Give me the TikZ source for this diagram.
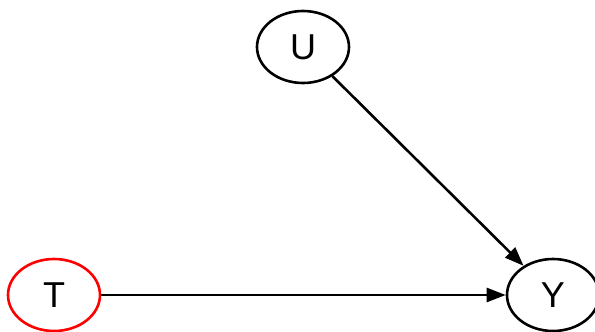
\documentclass[tikz,border=0pt]{standalone}
\usepackage{fontspec}
\setmainfont{Liberation Sans}
\usetikzlibrary{shapes.geometric,arrows.meta}
\begin{document}
\begin{tikzpicture}[x=1pt,y=-1pt,
  vnode/.style={ellipse,draw,line width=2.6pt,minimum width=92pt,minimum height=72pt,inner sep=0pt,font=\fontsize{36}{40}\selectfont},
  edge/.style={line width=2.6pt,-{Triangle[length=19pt,width=14pt]}}]
\useasboundingbox (0,0) rectangle (595,332);
\node[vnode] (U) at (303,47) {U};
\node[vnode,draw=red] (T) at (54,295) {T};
\node[vnode] (Y) at (553,295) {Y};
\draw[edge] (U) -- (Y);
\draw[edge] (T) -- (Y);
\end{tikzpicture}
\end{document}
